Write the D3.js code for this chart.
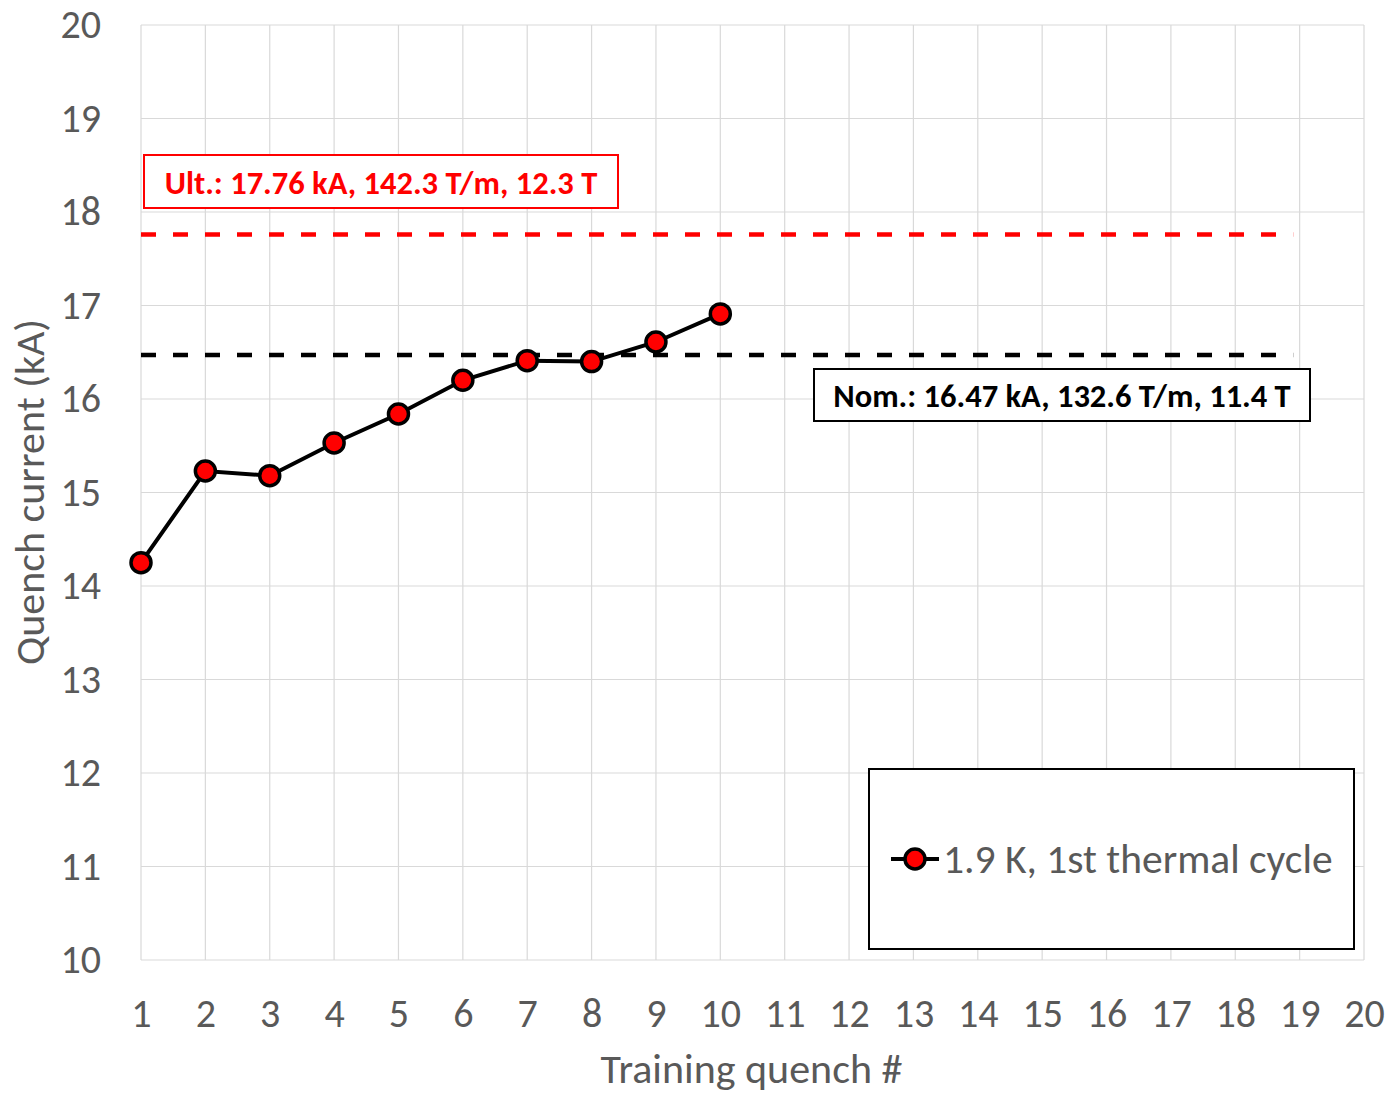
<!DOCTYPE html>
<html>
<head>
<meta charset="utf-8">
<script src="https://cdn.jsdelivr.net/npm/d3@7"></script>
<style>
  html, body { margin: 0; padding: 0; background: #fff; }
  svg { display: block; }
  text { font-family: Carlito, Calibri, Lato, "Noto Sans", sans-serif; }
</style>
</head>
<body>
<svg id="chart" width="1389" height="1093"></svg>
<script>
// Training quench number and measured quench current (kA)
const quenchNumbers = [1, 2, 3, 4, 5, 6, 7, 8, 9, 10];
const quenchCurrents = [14.25, 15.23, 15.18, 15.53, 15.84, 16.20, 16.41, 16.40, 16.61, 16.91];

// Reference current levels (kA)
const ultimateCurrent = 17.76;
const nominalCurrent = 16.47;
const referenceLineEnd = 18.9;

const xTicks = d3.range(1, 21);
const yTicks = d3.range(10, 21);

const seriesLabel = "1.9 K, 1st thermal cycle";
const ultimateLabel = "Ult.: 17.76 kA, 142.3 T/m, 12.3 T";
const nominalLabel = "Nom.: 16.47 kA, 132.6 T/m, 11.4 T";

const svg = d3.select("#chart");
const plot = { left: 141, right: 1364, top: 25, bottom: 960 };

const x = d3.scaleLinear().domain([1, 20]).range([plot.left, plot.right]);
const y = d3.scaleLinear().domain([10, 20]).range([plot.bottom, plot.top]);

const textGrey = "#595959";
const gridGrey = "#d9d9d9";

// Gridlines
svg.append("g").selectAll("line").data(yTicks).join("line")
  .attr("x1", plot.left).attr("x2", plot.right)
  .attr("y1", d => y(d)).attr("y2", d => y(d))
  .attr("stroke", gridGrey).attr("stroke-width", 1.2);
svg.append("g").selectAll("line").data(xTicks).join("line")
  .attr("x1", d => x(d)).attr("x2", d => x(d))
  .attr("y1", plot.top).attr("y2", plot.bottom)
  .attr("stroke", gridGrey).attr("stroke-width", 1.2);

// Axes (tick labels only)
const yAxis = svg.append("g")
  .attr("transform", `translate(${plot.left},0)`)
  .call(d3.axisLeft(y).tickValues(yTicks).tickSize(0).tickPadding(40).tickFormat(d3.format("d")));
yAxis.select(".domain").remove();
yAxis.selectAll("text").attr("fill", textGrey).style("font-size", "40px");

const xAxis = svg.append("g")
  .attr("transform", `translate(0,${plot.bottom})`)
  .call(d3.axisBottom(x).tickValues(xTicks).tickSize(0).tickPadding(39).tickFormat(d3.format("d")));
xAxis.select(".domain").remove();
xAxis.selectAll("text").attr("fill", textGrey).style("font-size", "40px");

// Axis titles
svg.append("text")
  .attr("x", (plot.left + plot.right) / 2 - 1)
  .attr("y", 1083)
  .attr("text-anchor", "middle")
  .attr("fill", textGrey)
  .style("font-size", "42px")
  .text("Training quench #");

svg.append("text")
  .attr("transform", `translate(44,${492}) rotate(-90)`)
  .attr("text-anchor", "middle")
  .attr("fill", textGrey)
  .style("font-size", "42px")
  .text("Quench current (kA)");

// Reference lines
svg.append("line")
  .attr("x1", x(1)).attr("x2", x(referenceLineEnd))
  .attr("y1", y(ultimateCurrent)).attr("y2", y(ultimateCurrent))
  .attr("stroke", "#ff0000").attr("stroke-width", 4.5)
  .attr("stroke-dasharray", "15 17");

svg.append("line")
  .attr("x1", x(1)).attr("x2", x(referenceLineEnd))
  .attr("y1", y(nominalCurrent)).attr("y2", y(nominalCurrent))
  .attr("stroke", "#000").attr("stroke-width", 4.5)
  .attr("stroke-dasharray", "15 17");

// Annotation boxes
function labelBox(x0, y0, w, h, color, label) {
  svg.append("rect")
    .attr("x", x0).attr("y", y0).attr("width", w).attr("height", h)
    .attr("fill", "#fff").attr("stroke", color).attr("stroke-width", 2);
  svg.append("text")
    .attr("x", x0 + w / 2).attr("y", y0 + h / 2 + 12)
    .attr("text-anchor", "middle")
    .attr("fill", color)
    .style("font-size", "32.5px").style("font-weight", "bold")
    .text(label);
}
labelBox(144, 155, 474, 53, "#ff0000", ultimateLabel);
labelBox(814, 369, 496, 52, "#000000", nominalLabel);

// Data series
const points = quenchNumbers.map((n, i) => ({ n, v: quenchCurrents[i] }));
svg.append("path")
  .datum(points)
  .attr("fill", "none")
  .attr("stroke", "#000")
  .attr("stroke-width", 4)
  .attr("d", d3.line().x(d => x(d.n)).y(d => y(d.v)));

svg.append("g").selectAll("circle").data(points).join("circle")
  .attr("cx", d => x(d.n)).attr("cy", d => y(d.v))
  .attr("r", 10)
  .attr("fill", "#ff0000").attr("stroke", "#000").attr("stroke-width", 3.5);

// Legend
svg.append("rect")
  .attr("x", 869).attr("y", 769).attr("width", 485).attr("height", 180)
  .attr("fill", "#fff").attr("stroke", "#000").attr("stroke-width", 2);
svg.append("line")
  .attr("x1", 891).attr("x2", 939).attr("y1", 859).attr("y2", 859)
  .attr("stroke", "#000").attr("stroke-width", 4);
svg.append("circle")
  .attr("cx", 915).attr("cy", 859).attr("r", 10)
  .attr("fill", "#ff0000").attr("stroke", "#000").attr("stroke-width", 3.5);
svg.append("text")
  .attr("x", 943).attr("y", 873)
  .attr("fill", textGrey)
  .style("font-size", "41.5px")
  .text(seriesLabel);
</script>
</body>
</html>
